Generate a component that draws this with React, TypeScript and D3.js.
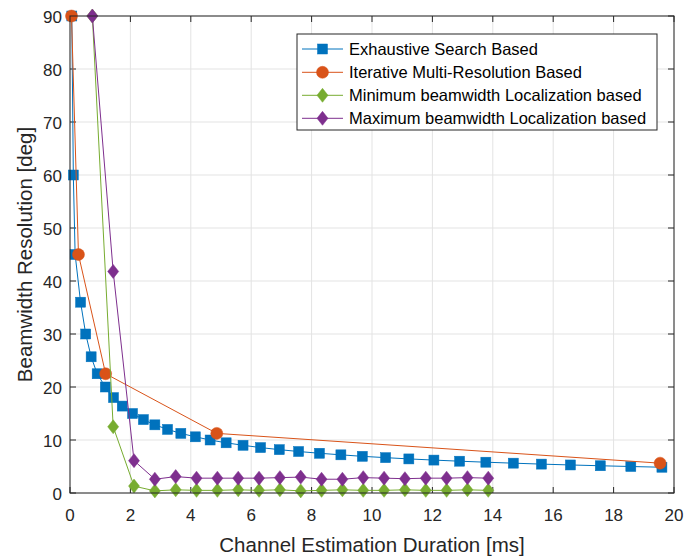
import React from "react";
import * as d3 from "d3";

const xTicks = [0, 2, 4, 6, 8, 10, 12, 14, 16, 18, 20];
const yTicks = [0, 10, 20, 30, 40, 50, 60, 70, 80, 90];

const exhaustiveX = [0.06, 0.11, 0.17, 0.35, 0.52, 0.70, 0.90, 1.17, 1.44, 1.73, 2.07, 2.43, 2.81, 3.23, 3.67, 4.15, 4.64, 5.17, 5.73, 6.31, 6.93, 7.57, 8.26, 8.97, 9.68, 10.45, 11.22, 12.05, 12.9, 13.77, 14.68, 15.61, 16.57, 17.56, 18.57, 19.6];
const exhaustiveY = [90, 60, 45, 36, 30, 25.7, 22.5, 20, 18, 16.4, 15, 13.85, 12.86, 12, 11.25, 10.6, 10, 9.47, 9, 8.57, 8.18, 7.83, 7.5, 7.2, 6.92, 6.67, 6.43, 6.21, 6, 5.81, 5.63, 5.45, 5.29, 5.14, 5, 4.86];

const iterativeX = [0.05, 0.28, 1.18, 4.86, 19.54];
const iterativeY = [90, 45, 22.5, 11.25, 5.63];

const locX = [0.74, 1.43, 2.12, 2.81, 3.5, 4.19, 4.88, 5.57, 6.26, 6.95, 7.64, 8.33, 9.02, 9.71, 10.4, 11.09, 11.78, 12.47, 13.16, 13.85];
const minLocY = [90, 12.5, 1.3, 0.4, 0.6, 0.5, 0.5, 0.6, 0.5, 0.6, 0.4, 0.5, 0.6, 0.5, 0.5, 0.6, 0.5, 0.5, 0.6, 0.5];
const maxLocY = [90, 41.8, 6.1, 2.6, 3.1, 2.8, 2.8, 2.8, 2.8, 2.9, 3.0, 2.6, 2.6, 2.9, 2.8, 2.7, 2.8, 2.8, 2.9, 2.8];

const seriesNames = [
  "Exhaustive Search Based",
  "Iterative Multi-Resolution Based",
  "Minimum beamwidth Localization based",
  "Maximum beamwidth Localization based",
];
const seriesColors = ["#0072BD", "#D95319", "#77AC30", "#7E2F8E"];
const seriesMarkers = ["square", "circle", "diamond", "diamond"];

const W = 686;
const H = 557;
const L = 70, R = 674, T = 16, B = 493;
const axisColor = "#262626";
const font = "Liberation Sans, Arial, Helvetica, sans-serif";

function Marker({ type, x, y, color }: { type: string; x: number; y: number; color: string }) {
  if (type === "square") {
    return <rect x={x - 5} y={y - 5} width={10} height={10} fill={color} stroke={color} strokeWidth={0.5} />;
  }
  if (type === "circle") {
    return <circle cx={x} cy={y} r={6} fill={color} stroke={color} strokeWidth={0.5} />;
  }
  const p = `${x},${y - 7} ${x + 5.5},${y} ${x},${y + 7} ${x - 5.5},${y}`;
  return <polygon points={p} fill={color} stroke={color} strokeWidth={0.5} />;
}

export default function App() {
  const xs = d3.scaleLinear().domain([0, 20]).range([L, R]);
  const ys = d3.scaleLinear().domain([0, 90]).range([B, T]);
  const line = d3.line<[number, number]>().x((d) => xs(d[0])).y((d) => ys(d[1]));

  const series = [
    { xs: exhaustiveX, ys: exhaustiveY },
    { xs: iterativeX, ys: iterativeY },
    { xs: locX, ys: minLocY },
    { xs: locX, ys: maxLocY },
  ].map((s, i) => ({
    pts: s.xs.map((x, j) => [x, s.ys[j]] as [number, number]),
    color: seriesColors[i],
    marker: seriesMarkers[i],
    name: seriesNames[i],
  }));

  const lgX = 297, lgY = 34, lgW = 360, lgH = 96;
  const rowY = [49, 72.3, 95.3, 118.3];

  return (
    <svg width={W} height={H} style={{ position: "absolute", left: 0, top: 0, background: "#fff" }} fontFamily={font}>
      <rect x={0} y={0} width={W} height={H} fill="#fff" />
      {/* grid */}
      {xTicks.map((t) => (
        <line key={"gx" + t} x1={xs(t)} x2={xs(t)} y1={T} y2={B} stroke="#e3e3e3" strokeWidth={1} />
      ))}
      {yTicks.map((t) => (
        <line key={"gy" + t} x1={L} x2={R} y1={ys(t)} y2={ys(t)} stroke="#e3e3e3" strokeWidth={1} />
      ))}
      {/* ticks */}
      {xTicks.map((t) => (
        <g key={"tx" + t}>
          <line x1={xs(t)} x2={xs(t)} y1={B} y2={B - 6} stroke={axisColor} />
          <line x1={xs(t)} x2={xs(t)} y1={T} y2={T + 6} stroke={axisColor} />
          <text x={xs(t)} y={B + 28} textAnchor="middle" fontSize={17} fill={axisColor}>{t}</text>
        </g>
      ))}
      {yTicks.map((t) => (
        <g key={"ty" + t}>
          <line x1={L} x2={L + 6} y1={ys(t)} y2={ys(t)} stroke={axisColor} />
          <line x1={R} x2={R - 6} y1={ys(t)} y2={ys(t)} stroke={axisColor} />
          <text x={L - 8} y={ys(t) + 7} textAnchor="end" fontSize={17} fill={axisColor}>{t}</text>
        </g>
      ))}
      {/* series */}
      {series.map((s, i) => (
        <g key={"s" + i}>
          <path d={line(s.pts) || ""} fill="none" stroke={s.color} strokeWidth={1} />
          {s.pts.map((p, j) => (
            <Marker key={j} type={s.marker} x={xs(p[0])} y={ys(p[1])} color={s.color} />
          ))}
        </g>
      ))}
      {/* box */}
      <rect x={L} y={T} width={R - L} height={B - T} fill="none" stroke={axisColor} strokeWidth={1} />
      {/* labels */}
      <text x={(L + R) / 2} y={552} textAnchor="middle" fontSize={20.5} fill={axisColor}>
        Channel Estimation Duration [ms]
      </text>
      <text transform={`translate(32,${(T + B) / 2}) rotate(-90)`} textAnchor="middle" fontSize={20.5} fill={axisColor}>
        Beamwidth Resolution [deg]
      </text>
      {/* legend */}
      <rect x={lgX} y={lgY} width={lgW} height={lgH} fill="#fff" stroke={axisColor} strokeWidth={1} />
      {series.map((s, i) => (
        <g key={"lg" + i}>
          <line x1={302} x2={343} y1={rowY[i]} y2={rowY[i]} stroke={s.color} strokeWidth={1} />
          <Marker type={s.marker} x={322.5} y={rowY[i]} color={s.color} />
          <text x={349} y={rowY[i] + 5.5} fontSize={16.5} fill="#000">{s.name}</text>
        </g>
      ))}
    </svg>
  );
}
